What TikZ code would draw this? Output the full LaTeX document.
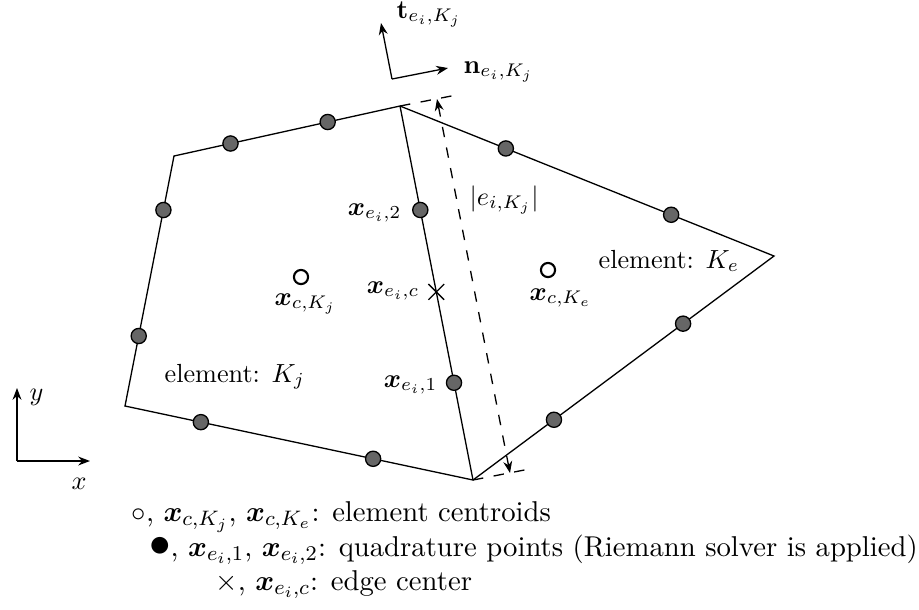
\documentclass[tikz,border=0pt]{standalone}
\usepackage{amsmath,amssymb,bm}
\usepackage{xcolor}
\usepackage{tikz}
\usetikzlibrary{positioning,calc,arrows.meta,shapes.misc}

\begin{document}
\begin{tikzpicture}[x=0.3817pt, y=-0.3817pt, line width=0.5pt]
                \tikzstyle{qpoint} = [circle, draw, fill=black!60, inner sep=0pt, minimum size=5.8pt]
                \tikzstyle{centroid} = [circle, draw, line width=0.8pt, inner sep=0pt, minimum size=5.4pt]
                \tikzstyle{edgecenter} = [cross out, draw, inner sep=0pt, minimum size=5.5pt]
                \tikzstyle{arrow} = [-{Stealth[length=4.5pt,width=3.4pt]}]
                \tikzstyle{dimline} = [dash pattern=on 4pt off 4pt]
                \tikzstyle{lbl} = [inner sep=0pt]
                \tikzstyle{legend} = [anchor=base west, inner sep=0pt, font=\fontsize{10.95pt}{13.6pt}\selectfont]

                \useasboundingbox (0,0) rectangle (919,609);

                \coordinate (vTL) at (174,156);
                \coordinate (vT) at (400,106);
                \coordinate (vB) at (473,480);
                \coordinate (vBL) at (125,406);
                \coordinate (vR) at (774,256);

                \draw (vT) -- (vTL) -- (vBL) -- (vB) -- (vR) -- cycle;
                \draw (vT) -- (vB);

                \node (qTa) [qpoint] at ($(vTL)!0.25!(vT)$) {};
                \node (qTb) [qpoint] at ($(vTL)!0.68!(vT)$) {};
                \node (qLa) [qpoint] at ($(vTL)!0.216!(vBL)$) {};
                \node (qLb) [qpoint] at ($(vTL)!0.72!(vBL)$) {};
                \node (qBa) [qpoint] at ($(vBL)!0.218!(vB)$) {};
                \node (qBb) [qpoint] at ($(vBL)!0.713!(vB)$) {};
                \node (qE2) [qpoint] at ($(vT)!0.278!(vB)$) {};
                \node (qE1) [qpoint] at ($(vT)!0.74!(vB)$) {};
                \node (qRa) [qpoint] at ($(vT)!0.283!(vR)$) {};
                \node (qRb) [qpoint] at ($(vT)!0.725!(vR)$) {};
                \node (qRc) [qpoint] at ($(vR)!0.302!(vB)$) {};
                \node (qRd) [qpoint] at ($(vR)!0.731!(vB)$) {};
                \node (eC) [edgecenter] at ($(vT)!0.497!(vB)$) {};
                \node (cKj) [centroid] at (301,277) {};
                \node (cKe) [centroid] at (548,270) {};

                \node (lE2) [lbl, anchor=base east] at (402,215) {$\bm{x}_{e_i,2}$};
                \node (lEc) [lbl, anchor=base east] at (420,293) {$\bm{x}_{e_i,c}$};
                \node (lE1) [lbl, anchor=base east] at (438,387) {$\bm{x}_{e_i,1}$};
                \node (lKj) [lbl, anchor=base west] at (274,305) {$\bm{x}_{c,K_j}$};
                \node (lKe) [lbl, anchor=base west] at (529,300) {$\bm{x}_{c,K_e}$};
                \node (lLen) [lbl, anchor=base west] at (469,205) {$|e_{i,K_j}|$};
                \node (elKe) [lbl, anchor=base west] at (598,268) {element: $K_e$};
                \node (elKj) [lbl, anchor=base west] at (164,382) {element: $K_j$};

                \coordinate (extT) at (459,94.5);
                \coordinate (extB) at (532,468.5);
                \coordinate (dimT) at (437,99);
                \coordinate (dimB) at (510,473);
                \draw [dimline] (vT) -- (extT);
                \draw [dimline] (vB) -- (extB);
                \draw [dimline, {Stealth[length=4.5pt,width=3.4pt]}-{Stealth[length=4.5pt,width=3.4pt]}] (dimT) -- (dimB);

                \coordinate (frame) at (392,79);
                \coordinate (tTip) at (381,23);
                \coordinate (nTip) at (448,68);
                \draw [arrow] (frame) -- (tTip);
                \draw [arrow] (frame) -- (nTip);
                \node (tLab) [lbl, anchor=base west] at (396,18) {$\mathbf{t}_{e_i,K_j}$};
                \node (nLab) [lbl, anchor=base west] at (463,73) {$\mathbf{n}_{e_i,K_j}$};

                \coordinate (axO) at (17,461);
                \coordinate (axY) at (17,388);
                \coordinate (axX) at (90,461);
                \draw [arrow] (axO) -- (axY);
                \draw [arrow] (axO) -- (axX);
                \node (yLab) [lbl, anchor=base west] at (29,400) {$y$};
                \node (xLab) [lbl, anchor=base west] at (71,489) {$x$};

                \node (leg1) [legend] at (131,521.5) {$\circ$, $\bm{x}_{c,K_j}$, $\bm{x}_{c,K_e}$: element centroids};
                \node (leg2) [legend] at (148.5,556) {\scalebox{1.5}{$\bullet$}, $\bm{x}_{e_i,1}$, $\bm{x}_{e_i,2}$: quadrature points (Riemann solver is applied)};
                \node (leg3) [legend] at (215,590) {$\times$, $\bm{x}_{e_i,c}$: edge center};
            \end{tikzpicture}
\end{document}
